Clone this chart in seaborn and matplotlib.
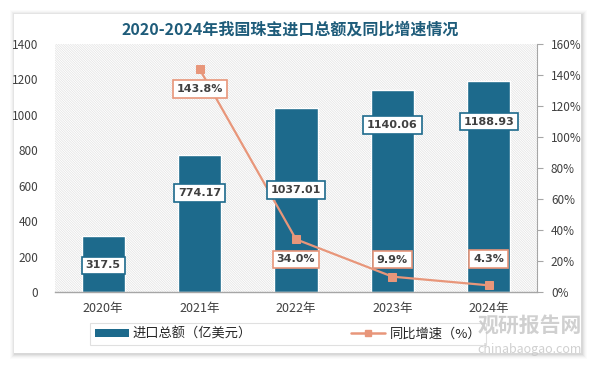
import matplotlib
matplotlib.use("Agg")
import matplotlib.pyplot as plt
import seaborn as sns
import numpy as np
import pandas as pd
from matplotlib.patches import Rectangle
from matplotlib.lines import Line2D
from matplotlib.ticker import MultipleLocator, FuncFormatter

# ---- data ----
years = ["2020年", "2021年", "2022年", "2023年", "2024年"]
import_total = [317.5, 774.17, 1037.01, 1140.06, 1188.93]
growth_years = ["2021年", "2022年", "2023年", "2024年"]
growth_pct = [143.8, 34.0, 9.9, 4.3]
bar_label_text = ["317.5", "774.17", "1037.01", "1140.06", "1188.93"]
growth_label_text = ["143.8%", "34.0%", "9.9%", "4.3%"]

title = "2020-2024年我国珠宝进口总额及同比增速情况"
bar_name = "进口总额（亿美元）"
line_name = "同比增速（%）"

# ---- style ----
sns.set_style("white")
plt.rcParams['font.family'] = ['Noto Sans CJK SC', 'DejaVu Sans']
plt.rcParams['hatch.linewidth'] = 0.5
plt.rcParams['hatch.color'] = '#e2e2e2'

BAR_C = "#1d6a8c"
LINE_C = "#e8967a"
TXT_C = "#404040"

W, H = 595, 367
fig = plt.figure(figsize=(W / 100, H / 100), dpi=100)
fig.patch.set_facecolor("white")

# card with soft shadow
for i, a in enumerate([0.015, 0.02, 0.03, 0.04, 0.05]):
    off = 5 - i
    fig.patches.append(Rectangle(((14 - off + 1) / W, 1 - (353 + off + 1) / H),
                                 (567 + 2 * off) / W, (339 + 2 * off) / H,
                                 transform=fig.transFigure, facecolor="#000000",
                                 alpha=a, edgecolor="none", zorder=0))
fig.patches.append(Rectangle((14 / W, 1 - 353 / H), 567 / W, 339 / H,
                             transform=fig.transFigure, facecolor="white",
                             edgecolor="none", zorder=0.5))

L, R, T, B = 55, 537, 44, 292
ax = fig.add_axes([L / W, 1 - B / H, (R - L) / W, (B - T) / H])
ax.set_zorder(2)
ax.set_facecolor("none")
ax.add_patch(Rectangle((0, 0), 1, 1, transform=ax.transAxes, facecolor="white",
                       hatch="\\" * 14, edgecolor="#e2e2e2", lw=0, zorder=0))

df = pd.DataFrame({"year": years, "total": import_total})
sns.barplot(data=df, x="year", y="total", order=years, color=BAR_C, width=0.45,
            edgecolor="white", linewidth=1.0, saturation=1, ax=ax, zorder=2)
ax.set_xlim(-0.5, len(years) - 0.5)
ax.set_ylim(0, 1400)
ax.yaxis.set_major_locator(MultipleLocator(200))
ax.set_xlabel("")
ax.set_ylabel("")
ax.tick_params(axis="y", length=0, labelsize=8.5, labelcolor=TXT_C, pad=12)
ax.tick_params(axis="x", length=0, labelsize=9, labelcolor=TXT_C, pad=7)
for s in ["top", "right", "left"]:
    ax.spines[s].set_visible(False)
ax.spines["bottom"].set_color("#a6a6a6")
ax.spines["bottom"].set_linewidth(1)

# line on twin axis
ax2 = ax.twinx()
ax2.set_zorder(3)
ax2.set_facecolor("none")
gx = [years.index(y) for y in growth_years]
gdf = pd.DataFrame({"x": gx, "pct": growth_pct})
sns.lineplot(data=gdf, x="x", y="pct", ax=ax2, color=LINE_C, linewidth=1.6,
             marker="s", markersize=6, markeredgecolor=LINE_C, zorder=5)
ax2.set_xlim(-0.5, len(years) - 0.5)
ax2.set_ylim(0, 160)
ax2.yaxis.set_major_locator(MultipleLocator(20))
ax2.yaxis.set_major_formatter(FuncFormatter(lambda v, p: f"{v:.0f}%"))
ax2.set_xlabel("")
ax2.set_ylabel("")
ax2.tick_params(axis="y", length=4, color="#a6a6a6", labelsize=8.5,
                labelcolor=TXT_C, pad=6)
for s in ["top", "left", "bottom"]:
    ax2.spines[s].set_visible(False)
ax2.spines["right"].set_color("#a6a6a6")

# bar labels (positions along each bar, in value units) drawn on top axis
bar_label_y = [150, 560, 576, 943, 962]
for i, t in enumerate(bar_label_text):
    ax2.text(i, bar_label_y[i] * 160 / 1400, t, ha="center", va="center",
             fontsize=8, fontweight="bold", color=TXT_C, zorder=6,
             family="DejaVu Sans",
             bbox=dict(boxstyle="square,pad=0.35", facecolor="white",
                       edgecolor=BAR_C, linewidth=1.2))

label_off = [-13, -13, 11, 17]  # offsets in % units
for xi, v, t, o in zip(gx, growth_pct, growth_label_text, label_off):
    ax2.text(xi, v + o, t, ha="center", va="center", fontsize=8,
             fontweight="bold", color=TXT_C, zorder=7, family="DejaVu Sans",
             bbox=dict(boxstyle="square,pad=0.35", facecolor="white",
                       edgecolor=LINE_C, linewidth=1.2))

# title
fig.text(290 / W, 1 - 30 / H, title, ha="center", va="center", fontsize=11.5,
         fontweight="bold", color="#1e5c7a")

# legend
handles = [Rectangle((0, 0), 1, 1, facecolor=BAR_C, edgecolor="none"),
           Line2D([0], [0], color=LINE_C, lw=1.8, marker="s", markersize=5)]
leg = fig.legend(handles, [bar_name, line_name], ncol=2,
                 loc="center left", bbox_to_anchor=(90 / W, 1 - 334 / H),
                 frameon=True, fontsize=9.5, columnspacing=7.5,
                 handlelength=2.6, handleheight=0.5, handletextpad=0.3,
                 borderpad=0.35, borderaxespad=0,
                 fancybox=False, edgecolor="#d9d9d9")
leg.get_frame().set_linewidth(0.8)
leg.set_zorder(3)

# watermark
fig.text(582 / W, 1 - 325 / H, "观研报告网", ha="right", va="center",
         fontsize=15, fontweight="bold", color="#c8c8c8", alpha=0.85, zorder=10)
fig.text(582 / W, 1 - 349 / H, "chinabaogao.com", ha="right", va="center",
         fontsize=9, color="#c8c8c8", alpha=0.85, zorder=10)

fig.savefig("out.png", dpi=100, facecolor=fig.get_facecolor())
